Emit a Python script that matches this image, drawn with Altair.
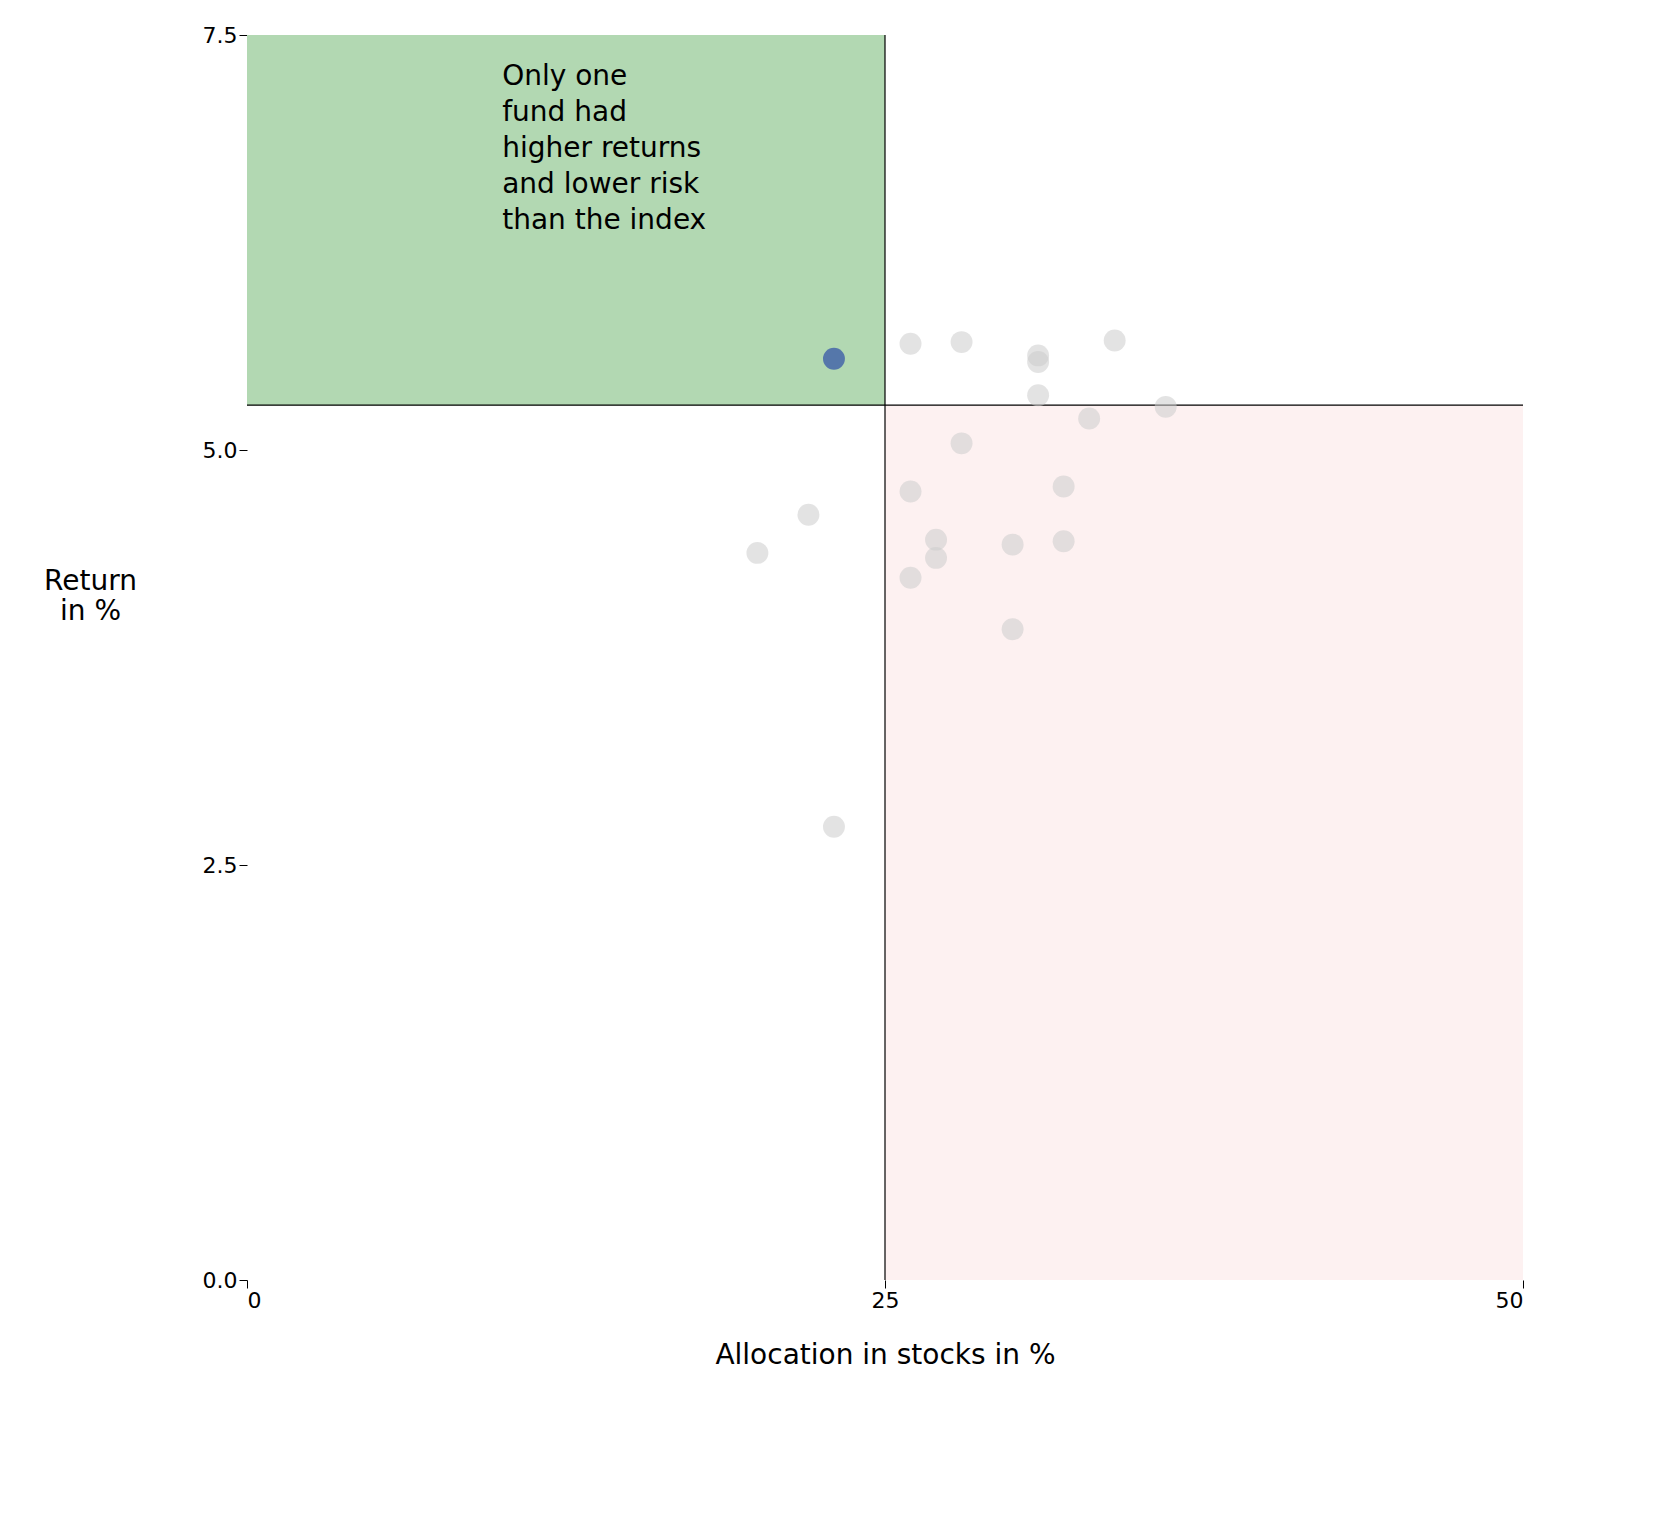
import altair as alt
import pandas as pd

grey_x = [26, 28, 31, 31, 34, 31, 33, 36, 28, 26, 32, 22, 20, 27, 27, 30, 32, 26, 30, 23]
grey_y = [5.64, 5.65, 5.57, 5.53, 5.66, 5.33, 5.19, 5.26, 5.04, 4.75, 4.78, 4.61, 4.38, 4.46, 4.35, 4.43, 4.45, 4.23, 3.92, 2.73]
blue_x = [23]
blue_y = [5.55]
index_x = 25
index_y = 5.27
note = ["Only one", "fund had", "higher returns", "and lower risk", "than the index"]

F = "DejaVu Sans"
W, H = 1276, 1245
xs = alt.Scale(domain=[0, 50], nice=False)
ys = alt.Scale(domain=[0, 7.5], nice=False)

rects = pd.DataFrame({"x": [0, index_x], "x2": [index_x, 50], "y": [index_y, 0], "y2": [7.5, index_y],
                      "c": ["#b2d8b2", "#fdf1f1"]})
rect = alt.Chart(rects).mark_rect().encode(
    x=alt.X("x:Q", scale=xs, title="Allocation in stocks in %",
            axis=alt.Axis(values=[0, 25, 50], format="d", domain=False, grid=False, labelFont=F,
                          labelFontSize=22, titleFont=F, titleFontSize=28, titleFontWeight="normal",
                          titlePadding=30, tickSize=8, tickColor="black", labelColor="black", titleColor="black")),
    x2="x2:Q",
    y=alt.Y("y:Q", scale=ys, title=["Return", "in %"],
            axis=alt.Axis(values=[0, 2.5, 5, 7.5], format=".1f", domain=False, grid=False, labelFont=F,
                          labelFontSize=22, titleFont=F, titleFontSize=28, titleFontWeight="normal",
                          titleAngle=0, titleAlign="center", titleX=-157, titleY=560, tickSize=8,
                          tickColor="black", labelColor="black", titleColor="black")),
    y2="y2:Q",
    color=alt.Color("c:N", scale=None),
)

vl = alt.Chart(pd.DataFrame({"x": [index_x], "y": [0], "y2": [7.5]})).mark_rule(color="black", strokeWidth=1.2).encode(
    x=alt.X("x:Q", scale=xs), y=alt.Y("y:Q", scale=ys), y2="y2:Q")
hl = alt.Chart(pd.DataFrame({"y": [index_y], "x": [0], "x2": [50]})).mark_rule(color="black", strokeWidth=1.2).encode(
    y=alt.Y("y:Q", scale=ys), x=alt.X("x:Q", scale=xs), x2="x2:Q")

grey = alt.Chart(pd.DataFrame({"x": grey_x, "y": grey_y})).mark_circle(size=480, color="#cccccc", opacity=0.55).encode(
    x=alt.X("x:Q", scale=xs), y=alt.Y("y:Q", scale=ys))
blue = alt.Chart(pd.DataFrame({"x": blue_x, "y": blue_y})).mark_circle(size=480, color="#5577aa", opacity=1).encode(
    x=alt.X("x:Q", scale=xs), y=alt.Y("y:Q", scale=ys))

txt = alt.Chart(pd.DataFrame({"x": [10], "y": [7.33], "t": [note]})).mark_text(
    align="left", baseline="top", font=F, fontSize=28, lineHeight=36, color="black").encode(
    x=alt.X("x:Q", scale=xs), y=alt.Y("y:Q", scale=ys), text="t")

chart = alt.layer(rect, vl, hl, grey, blue, txt).properties(
    width=W, height=H, autosize=alt.AutoSizeParams(type="none"),
    padding={"left": 239, "top": 27, "right": 60, "bottom": 200},
).configure(background="white").configure_view(stroke=None, strokeWidth=0)
chart.save("out.html", embed_options={"renderer": "svg", "actions": False})
